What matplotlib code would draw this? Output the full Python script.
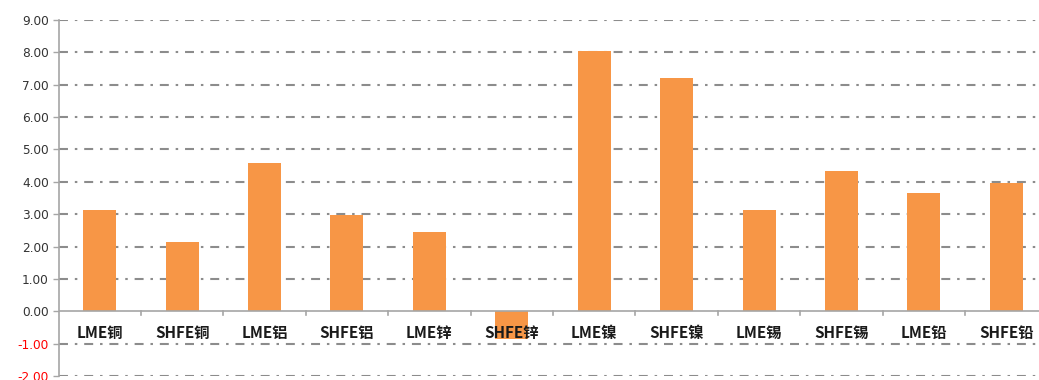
import matplotlib
matplotlib.use('Agg')
import matplotlib.pyplot as plt
import numpy as np

categories = ['LME铜', 'SHFE铜', 'LME铝', 'SHFE铝', 'LME锌', 'SHFE锌',
              'LME镍', 'SHFE镍', 'LME锡', 'SHFE锡', 'LME铅', 'SHFE铅']
values = [3.12, 2.15, 4.58, 2.97, 2.45, -0.85, 8.05, 7.22, 3.12, 4.32, 3.65, 3.95]
y_ticks = [-2, -1, 0, 1, 2, 3, 4, 5, 6, 7, 8, 9]

plt.rcParams['font.family'] = ['DejaVu Sans']

fig = plt.figure(figsize=(10.39, 3.80), dpi=100)
# plot area runs a little past the right edge, as in the source
ax = fig.add_axes([58.5 / 1039, 4 / 380, 989 / 1039, 356 / 380])

x = np.arange(len(categories))
ax.bar(x, values, width=0.4, color='#F79646', zorder=3)

ax.set_xlim(-0.5, len(categories) - 0.5)
ax.set_ylim(-2, 9)

# dash-dot gridlines (zero is the solid axis line)
for v in y_ticks:
    if v == 0:
        continue
    ax.axhline(v, color='#8C8C8C', lw=1.5, dashes=(4.3, 3.3, 1.2, 3.3), zorder=1)
ax.axhline(0, color='#A6A6A6', lw=1.2, zorder=4)

for sp in ['top', 'right', 'bottom']:
    ax.spines[sp].set_visible(False)
ax.spines['left'].set_color('#A6A6A6')
ax.spines['left'].set_linewidth(1.2)

ax.set_yticks(y_ticks)
ax.set_yticklabels([f'{v:.2f}' for v in y_ticks], fontsize=8.7)
for lbl, v in zip(ax.get_yticklabels(), y_ticks):
    lbl.set_color('#FF0000' if v < 0 else '#333333')
ax.tick_params(axis='y', length=4, width=1, color='#A6A6A6', pad=3)

# category boundary ticks on the zero line
ax.set_xticks([])
for b in np.arange(0.5, len(categories) - 0.5, 1.0):
    ax.plot([b, b], [0, -0.13], color='#A6A6A6', lw=1.2, zorder=4, clip_on=False)

for xi, name in zip(x, categories):
    ax.text(xi, -0.68, name, ha='center', va='center', fontsize=11, fontweight='bold',
            family=['Noto Sans CJK SC', 'DejaVu Sans'], color='#1A1A1A', zorder=5)

fig.savefig('out.png', dpi=100)
